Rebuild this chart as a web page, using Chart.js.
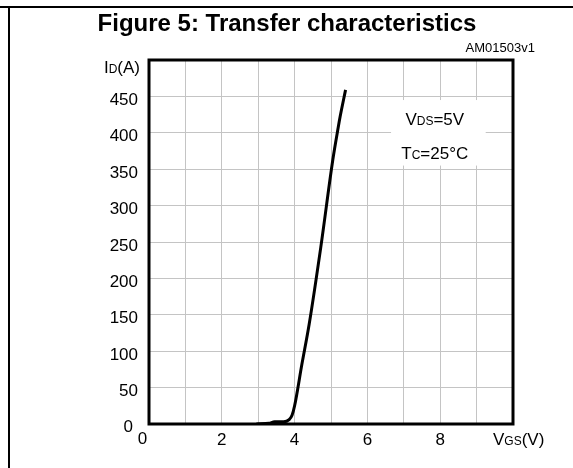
<!DOCTYPE html>
<html>
<head>
<meta charset="utf-8">
<script src="https://cdn.jsdelivr.net/npm/chart.js@4/dist/chart.umd.min.js"></script>
<style>
  html, body { margin: 0; padding: 0; background: #fff; }
  #wrap { width: 573px; height: 468px; }
</style>
</head>
<body>
<div id="wrap"><canvas id="c" width="573" height="468"></canvas></div>
<script>
// ---- data ----
const vgsValues = [2.95, 3.3, 3.45, 3.7, 3.85, 3.93, 4.0, 4.2, 4.4, 4.72, 5.05, 5.2, 5.25, 5.4];
const idValues  = [0,    1,   3,    3,   6,    12,   25,  82,  137, 243,  363,  408, 422,  459];
const xTickLabels = ['0', '2', '4', '6', '8'];
const yTickLabels = ['0', '50', '100', '150', '200', '250', '300', '350', '400', '450'];
const titleText = 'Figure 5: Transfer characteristics';
const codeText = 'AM01503v1';
const conditionVds = [['V', 'big'], ['DS', 'small'], ['=5V', 'big']];
const conditionTc = [['T', 'big'], ['C', 'small'], ['=25°C', 'big']];
const yUnitLabel = [['I', 'big'], ['D', 'small'], ['(A)', 'big']];
const xUnitLabel = [['V', 'big'], ['GS', 'small'], ['(V)', 'big']];

const FONT = '"Liberation Sans", Arial, sans-serif';
const BIG = 17, SMALL = 12;

function drawRich(ctx, parts, x, yMid, align) {
  let widths = parts.map(([t, k]) => {
    ctx.font = (k === 'big' ? BIG : SMALL) + 'px ' + FONT;
    return ctx.measureText(t).width;
  });
  const total = widths.reduce((a, b) => a + b, 0);
  let cx = align === 'right' ? x - total : align === 'center' ? x - total / 2 : x;
  const baseline = yMid + BIG * 0.36;
  ctx.textAlign = 'left';
  ctx.textBaseline = 'alphabetic';
  ctx.fillStyle = '#000';
  parts.forEach(([t, k], i) => {
    ctx.font = (k === 'big' ? BIG : SMALL) + 'px ' + FONT;
    ctx.fillText(t, cx, baseline);
    cx += widths[i];
  });
  return total;
}

const decor = {
  id: 'decor',
  beforeDatasetsDraw(chart) {
    const { ctx } = chart;
    const xs = chart.scales.x, ys = chart.scales.y;
    // white box behind the conditions text
    ctx.save();
    ctx.fillStyle = '#fff';
    const x0 = xs.getPixelForValue(6.65), x1 = xs.getPixelForValue(9.25);
    const y0 = ys.getPixelForValue(445), y1 = ys.getPixelForValue(355);
    ctx.fillRect(x0, y0, x1 - x0, y1 - y0);
    drawRich(ctx, conditionVds, xs.getPixelForValue(7.85), ys.getPixelForValue(419), 'center');
    drawRich(ctx, conditionTc, xs.getPixelForValue(7.85), ys.getPixelForValue(372), 'center');
    ctx.restore();
  },
  afterDraw(chart) {
    const { ctx, chartArea: a } = chart;
    const xs = chart.scales.x, ys = chart.scales.y;
    ctx.save();
    // page frame lines (top and left)
    ctx.fillStyle = '#000';
    ctx.fillRect(0, 6, 573, 2);
    ctx.fillRect(8, 6, 2, 462);
    // plot frame
    ctx.strokeStyle = '#000';
    ctx.lineWidth = 3;
    ctx.strokeRect(a.left, a.top, a.right - a.left, a.bottom - a.top);
    // title
    ctx.font = 'bold 24px ' + FONT;
    ctx.textAlign = 'center';
    ctx.textBaseline = 'alphabetic';
    ctx.fillText(titleText, 287, 31);
    // figure code
    ctx.font = '13px ' + FONT;
    ctx.textAlign = 'right';
    ctx.fillText(codeText, 535, 52);
    // zero labels at the corner
    ctx.font = BIG + 'px ' + FONT;
    ctx.textAlign = 'right';
    ctx.textBaseline = 'middle';
    ctx.fillText(yTickLabels[0], 133, ys.getPixelForValue(0) + 3);
    ctx.textAlign = 'center';
    ctx.fillText(xTickLabels[0], xs.getPixelForValue(0) - 6.5, 439);
    // axis unit labels
    drawRich(ctx, yUnitLabel, 140, 67, 'right');
    drawRich(ctx, xUnitLabel, 493, 439, 'left');
    ctx.restore();
  }
};

new Chart(document.getElementById('c'), {
  type: 'scatter',
  data: {
    datasets: [{
      data: vgsValues.map((v, i) => ({ x: v, y: idValues[i] })),
      showLine: true,
      borderColor: '#000',
      borderWidth: 3,
      pointRadius: 0,
      tension: 0.2,
      cubicInterpolationMode: 'monotone',
      fill: false
    }]
  },
  options: {
    responsive: false,
    animation: false,
    devicePixelRatio: 1,
    layout: { padding: { top: 60, right: 60, left: 0, bottom: 0 } },
    plugins: { legend: { display: false }, title: { display: false }, tooltip: { enabled: false } },
    scales: {
      x: {
        type: 'linear', min: 0, max: 10,
        afterFit(s) { s.height = 44; },
        grid: { color: '#c4c4c4', lineWidth: 1, drawTicks: false },
        border: { display: false },
        ticks: {
          stepSize: 1, autoSkip: false, maxRotation: 0, padding: 6,
          color: '#000', font: { family: FONT, size: BIG },
          callback: (v) => (xTickLabels.includes(String(v)) && v !== 0) ? String(v) : ''
        }
      },
      y: {
        type: 'linear', min: 0, max: 500,
        afterFit(s) { s.width = 149; },
        grid: { color: '#c4c4c4', lineWidth: 1, drawTicks: false },
        border: { display: false },
        ticks: {
          stepSize: 50, autoSkip: false, padding: 11, labelOffset: 4,
          color: '#000', font: { family: FONT, size: BIG },
          callback: (v) => (xTickLabels.includes(String(v)) && false) || (yTickLabels.includes(String(v)) && v !== 0) ? String(v) : ''
        }
      }
    }
  },
  plugins: [decor]
});
</script>
</body>
</html>
